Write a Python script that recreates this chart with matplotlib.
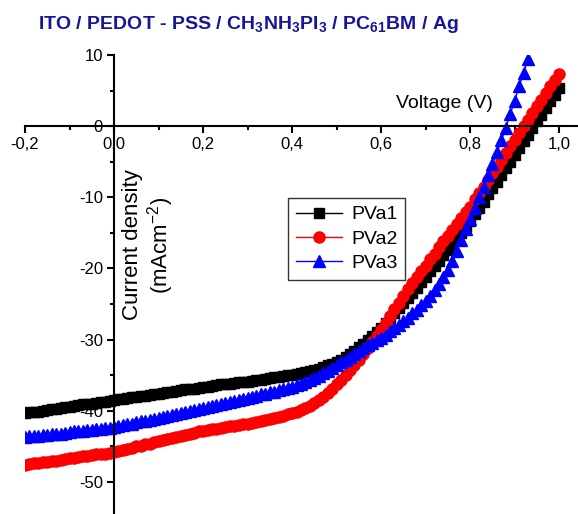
# J-V curves of the ITO / PEDOT-PSS / CH3NH3PI3 / PC61BM / Ag cells
import matplotlib
matplotlib.use('Agg')
import matplotlib.pyplot as plt
from matplotlib.ticker import FuncFormatter, MultipleLocator

voltage = [round(-0.2 + 0.01 * i, 2) for i in range(121)]

pva1 = [-40.3, -40.2, -40.1, -40.1, -40.0, -39.9, -39.8, -39.7, -39.6, -39.5,
        -39.4, -39.3, -39.2, -39.1, -39.0, -39.0, -38.9, -38.8, -38.7, -38.6,
        -38.5, -38.4, -38.3, -38.2, -38.1, -38.0, -37.9, -37.9, -37.8, -37.7,
        -37.6, -37.5, -37.4, -37.3, -37.2, -37.1, -37.0, -37.0, -36.9, -36.8,
        -36.7, -36.6, -36.5, -36.4, -36.3, -36.3, -36.2, -36.1, -36.0, -36.0,
        -35.9, -35.8, -35.7, -35.6, -35.5, -35.4, -35.3, -35.2, -35.1, -35.0,
        -34.9, -34.8, -34.7, -34.6, -34.4, -34.3, -34.1, -33.9, -33.6, -33.4,
        -33.1, -32.8, -32.4, -32.0, -31.6, -31.1, -30.6, -30.1, -29.5, -28.9,
        -28.3, -27.6, -26.9, -26.2, -25.6, -24.9, -24.2, -23.4, -22.7, -21.9,
        -21.2, -20.4, -19.7, -18.9, -18.1, -17.4, -16.6, -15.8, -15.0, -14.1,
        -13.3, -12.4, -11.5, -10.6, -9.6, -8.7, -7.8, -6.8, -5.9, -5.0,
        -4.0, -3.1, -2.1, -1.2, -0.2, 0.7, 1.6, 2.5, 3.5, 4.4,
        5.3]

pva2 = [-47.6, -47.5, -47.4, -47.3, -47.2, -47.2, -47.1, -47.0, -46.9, -46.8,
        -46.7, -46.6, -46.5, -46.4, -46.3, -46.2, -46.1, -46.0, -46.0, -45.9,
        -45.8, -45.6, -45.5, -45.3, -45.2, -45.0, -44.9, -44.7, -44.6, -44.4,
        -44.3, -44.1, -44.0, -43.8, -43.7, -43.5, -43.4, -43.2, -43.1, -42.9,
        -42.8, -42.7, -42.6, -42.5, -42.4, -42.3, -42.2, -42.1, -42.0, -41.9,
        -41.8, -41.7, -41.6, -41.5, -41.3, -41.2, -41.0, -40.9, -40.7, -40.5,
        -40.3, -40.1, -39.9, -39.6, -39.3, -38.9, -38.5, -38.0, -37.5, -36.9,
        -36.3, -35.6, -35.0, -34.3, -33.6, -32.8, -32.0, -31.2, -30.3, -29.5,
        -28.6, -27.6, -26.7, -25.7, -24.8, -23.8, -22.9, -22.1, -21.2, -20.4,
        -19.6, -18.7, -17.9, -17.0, -16.2, -15.4, -14.6, -13.7, -12.9, -12.1,
        -11.3, -10.3, -9.4, -8.5, -7.5, -6.6, -5.7, -4.7, -3.8, -2.8,
        -1.9, -1.0, 0.0, 0.9, 1.9, 2.8, 3.7, 4.6, 5.6, 6.5,
        7.4]

pva3 = [-43.7, -43.6, -43.6, -43.5, -43.4, -43.4, -43.3, -43.2, -43.2, -43.1,
        -43.0, -42.9, -42.9, -42.8, -42.7, -42.7, -42.6, -42.5, -42.4, -42.4,
        -42.3, -42.2, -42.0, -41.9, -41.8, -41.6, -41.5, -41.4, -41.3, -41.1,
        -41.0, -40.9, -40.7, -40.6, -40.5, -40.3, -40.2, -40.0, -39.9, -39.8,
        -39.6, -39.5, -39.3, -39.2, -39.0, -38.9, -38.8, -38.6, -38.5, -38.3,
        -38.2, -38.0, -37.9, -37.7, -37.6, -37.4, -37.3, -37.1, -36.9, -36.8,
        -36.6, -36.4, -36.2, -36.0, -35.7, -35.4, -35.1, -34.7, -34.4, -34.0,
        -33.6, -33.2, -32.8, -32.4, -32.0, -31.6, -31.2, -30.8, -30.5, -30.1,
        -29.7, -29.3, -28.8, -28.4, -27.9, -27.4, -26.9, -26.3, -25.8, -25.2,
        -24.5, -23.8, -23.0, -22.2, -21.2, -20.2, -18.9, -17.5, -16.0, -14.5,
        -13.0, -11.5, -10.0, -8.5, -6.9, -5.3, -3.7, -2.0, -0.2, 1.7,
        3.6, 5.6, 7.5, 9.5]

x_ticks = [-0.2, 0.0, 0.2, 0.4, 0.6, 0.8, 1.0]
y_ticks = [10, 0, -10, -20, -30, -40, -50]

plt.rcParams['font.family'] = ['Liberation Sans', 'DejaVu Sans']
plt.rcParams['axes.unicode_minus'] = False
plt.rcParams['mathtext.fontset'] = 'custom'
plt.rcParams['mathtext.rm'] = 'Liberation Sans'
plt.rcParams['mathtext.bf'] = 'Liberation Sans:bold'

fig = plt.figure(figsize=(5.78, 5.14), dpi=100)
ax = fig.add_axes([25 / 578, 0.0, 552 / 578, 459 / 514])

ax.plot(voltage, pva1, color='black', marker='s', ms=7.5, lw=1, label='PVa1')
ax.plot(voltage, pva2, color='red', marker='o', ms=8, lw=1, label='PVa2')
ax.plot(voltage[:len(pva3)], pva3, color='blue', marker='^', ms=8.5, lw=1, label='PVa3')

ax.set_xlim(-0.2, 1.04)
ax.set_ylim(-54.5, 10)

for s in ['top', 'right']:
    ax.spines[s].set_visible(False)
ax.spines['left'].set_position(('data', 0))
ax.spines['bottom'].set_position(('data', 0))
ax.spines['left'].set_linewidth(1.5)
ax.spines['bottom'].set_linewidth(1.5)

ax.set_xticks(x_ticks)
ax.set_yticks(y_ticks)
ax.xaxis.set_minor_locator(MultipleLocator(0.1))
ax.yaxis.set_minor_locator(MultipleLocator(5))
ax.xaxis.set_major_formatter(FuncFormatter(lambda v, p: f'{v:.1f}'.replace('.', ',')))
ax.yaxis.set_major_formatter(FuncFormatter(lambda v, p: f'{v:.0f}'))
ax.tick_params(which='major', direction='out', length=5, width=1.5, labelsize=12, pad=3)
ax.tick_params(which='minor', direction='out', length=3, width=1.5)

ax.text(490 / 578, 1 - (103 - 55) / 459, 'Voltage (V)', transform=ax.transAxes,
        fontsize=14, ha='right', va='center')
ax.text((149 - 25) / 552, 1 - (245 - 55) / 459, 'Current density\n(mAcm$^{\\mathrm{-2}}$)',
        transform=ax.transAxes, fontsize=16, rotation=90, ha='center', va='center',
        multialignment='center', linespacing=1.05)

leg = ax.legend(loc='upper left', bbox_to_anchor=((288 - 25) / 552, 1 - (198 - 55) / 459),
                fontsize=14, frameon=True, fancybox=False, edgecolor='black',
                borderpad=0.4, labelspacing=0.35, handlelength=2.4, handletextpad=0.45,
                borderaxespad=0)
leg.get_frame().set_linewidth(1.0)

fig.text(38 / 578, 1 - 24 / 514,
         'ITO / PEDOT - PSS / CH$_\\mathbf{3}$NH$_\\mathbf{3}$PI$_\\mathbf{3}$ / PC$_\\mathbf{61}$BM / Ag',
         family='Liberation Sans', fontweight='bold',
         fontsize=14, color='#16169c', ha='left', va='center')

fig.savefig('out.png', dpi=100)
